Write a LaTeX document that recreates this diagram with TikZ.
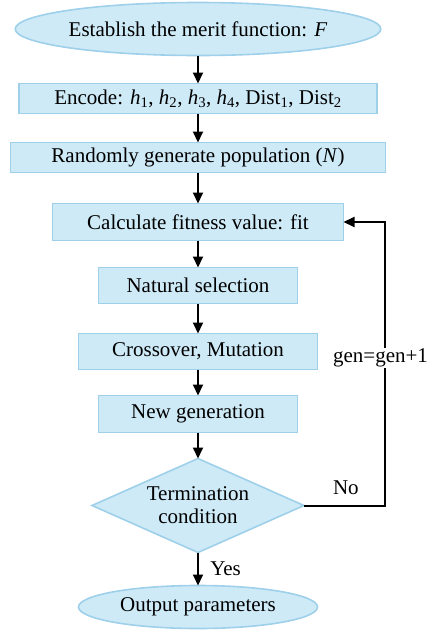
\documentclass[tikz,border=0pt]{standalone}
\usepackage{fontspec}
\setmainfont{Liberation Serif}
\usetikzlibrary{shapes.geometric,positioning,arrows.meta}
\definecolor{boxfill}{RGB}{206,234,247}
\definecolor{boxline}{RGB}{158,208,234}
\tikzset{
  >={Triangle[length=11pt,width=10pt]},
  every node/.style={font=\fontsize{21}{23}\selectfont},
  stepbox/.style={draw=boxline, fill=boxfill, line width=1.6pt, rectangle, inner sep=0pt, outer sep=0pt},
  term/.style={draw=boxline, fill=boxfill, line width=1.6pt, ellipse, inner sep=0pt, outer sep=0pt},
  test/.style={draw=boxline, fill=boxfill, line width=1.6pt, diamond, aspect=2.25, inner sep=0pt, outer sep=0pt,
    minimum width=212pt, minimum height=94pt, align=center},
  flow/.style={->, line width=2pt},
}

\begin{document}
\begin{tikzpicture}[x=1pt, y=1pt]
    \useasboundingbox (0,0) rectangle (429,-630);
    \node[term, minimum width=343pt, minimum height=53pt]        (merit) at (198,-29) {Establish the merit function: \textit{F}};
    \node[stepbox, minimum width=358pt, minimum height=30pt]     (enc)  [below=28pt of merit] {Encode: \textit{h}\textsubscript{1}, \textit{h}\textsubscript{2}, \textit{h}\textsubscript{3}, \textit{h}\textsubscript{4}, Dist\textsubscript{1}, Dist\textsubscript{2}};
    \node[stepbox, minimum width=375pt, minimum height=30pt]     (rand) [below=29pt of enc] {Randomly generate population (\textit{N})};
    \node[stepbox, minimum width=291pt, minimum height=37pt]     (calc) [below=31pt of rand] {Calculate fitness value: fit};
    \node[stepbox, minimum width=199pt, minimum height=36pt]     (nat)  [below=27pt of calc] {Natural selection};
    \node[stepbox, minimum width=239pt, minimum height=36pt]     (cross) [below=30pt of nat] {Crossover, Mutation};
    \node[stepbox, minimum width=199pt, minimum height=37pt]     (newg) [below=26pt of cross] {New generation};
    \node[test]                                                  (stop) [below=26pt of newg] {Termination\\condition};
    \node[term, minimum width=239pt, minimum height=43pt]        (out)  [below=33pt of stop] {Output parameters};
    \coordinate (turn) at ([xshift=41pt]calc.east);
    \draw[flow] (merit) -- (enc);
    \draw[flow] (enc) -- (rand);
    \draw[flow] (rand) -- (calc);
    \draw[flow] (calc) -- (nat);
    \draw[flow] (nat) -- (cross);
    \draw[flow] (cross) -- (newg);
    \draw[flow] (newg) -- (stop);
    \draw[flow] (stop) -- node[right=8pt] {Yes} (out);
    \draw[flow] (stop.east) -| node[pos=0.26, anchor=south, yshift=6pt] {No}
      node[pos=0.76, fill=white, inner sep=1pt, xshift=-4pt] {gen=gen+1} (turn) -- (calc.east);
\end{tikzpicture}
\end{document}
